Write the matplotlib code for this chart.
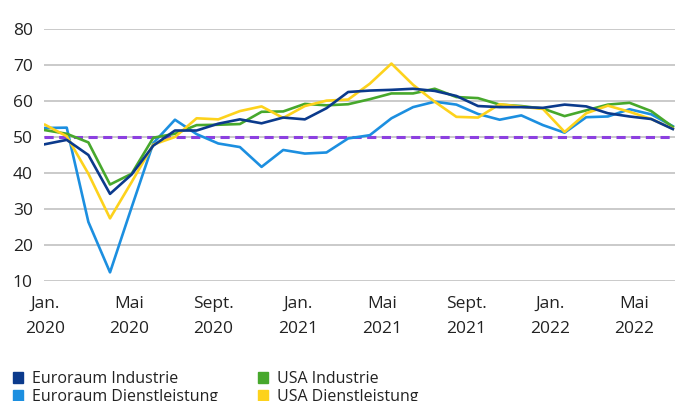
import numpy as np
import matplotlib as mpl
mpl.use('Agg')
import matplotlib.pyplot as plt
from matplotlib.patches import Patch

# monthly PMI values, Jan 2020 - Jun 2022
euro_ind = [48.0, 49.2, 45.0, 34.2, 39.6, 47.6, 51.8, 51.8, 53.7, 54.9, 53.8, 55.4,
            54.9, 58.0, 62.5, 62.9, 63.1, 63.4, 62.8, 61.4, 58.6, 58.3, 58.3, 58.1,
            59.0, 58.5, 56.6, 55.7, 55.0, 52.2]
euro_serv = [52.5, 52.6, 26.4, 12.4, 30.5, 48.3, 54.8, 50.8, 48.2, 47.2, 41.7, 46.4,
             45.4, 45.7, 49.6, 50.5, 55.2, 58.3, 59.8, 59.0, 56.4, 54.8, 56.0, 53.3,
             51.2, 55.5, 55.7, 57.7, 56.3, 53.0]
us_ind = [51.9, 50.9, 48.5, 36.8, 39.8, 49.8, 50.9, 53.3, 53.4, 53.6, 57.0, 57.1,
          59.2, 58.8, 59.1, 60.5, 62.1, 62.1, 63.4, 61.1, 60.8, 59.0, 58.6, 57.9,
          55.8, 57.4, 59.0, 59.5, 57.2, 52.8]
us_serv = [53.4, 50.2, 39.8, 27.4, 37.5, 47.9, 50.0, 55.2, 54.9, 57.2, 58.5, 55.3,
           58.6, 60.1, 60.4, 64.8, 70.4, 64.5, 59.8, 55.6, 55.4, 59.1, 58.4, 57.8,
           51.4, 56.6, 58.7, 57.0, 55.0, 52.3]
month_labels = ['Jan.\n2020', 'Mai\n2020', 'Sept.\n2020', 'Jan.\n2021',
                'Mai\n2021', 'Sept.\n2021', 'Jan.\n2022', 'Mai\n2022']
euro_labels = ['Euroraum Industrie', 'Euroraum Dienstleistung']
usa_labels = ['USA Industrie', 'USA Dienstleistung']

c_navy = '#0b3a8c'
c_light = '#1c8fe0'
c_green = '#47a82c'
c_yellow = '#fdd21c'
c_purple = '#8c3fe0'
c_grid = '#c6c6c6'
c_text = '#222222'

plt.rcParams['font.family'] = ['Open Sans', 'DejaVu Sans']

fig = plt.figure(figsize=(6.82, 4.01), dpi=100)
ax = fig.add_axes([44/682, 1-281/401, (675-44)/682, (281-29)/401])

x = np.arange(len(euro_ind))
ax.axhline(50, color=c_purple, lw=2.2, ls=(0, (3.0, 1.8)), zorder=1)
ax.plot(x, euro_serv, color=c_light, lw=1.9, zorder=3)
ax.plot(x, us_ind, color=c_green, lw=1.9, zorder=3)
ax.plot(x, us_serv, color=c_yellow, lw=1.9, zorder=3)
ax.plot(x, euro_ind, color=c_navy, lw=1.9, zorder=4)

ax.set_ylim(10, 80)
ax.set_xlim(-0.05, 29.1)
ax.set_yticks(range(10, 81, 10))
ax.yaxis.grid(True, color=c_grid, lw=1.3)
ax.set_axisbelow(True)
for s in ax.spines.values():
    s.set_visible(False)

ax.set_xticks(np.arange(8) * 3.89)
ax.set_xticklabels(month_labels, linespacing=1.75)
ax.tick_params(length=0, colors=c_text, labelsize=12.5)
ax.tick_params(axis='y', pad=8)
ax.tick_params(axis='x', pad=11)

lg_kw = dict(loc='upper left', frameon=False, fontsize=11.5,
             handlelength=0.65, handleheight=0.65, handletextpad=0.55,
             labelspacing=0.15, borderpad=0, borderaxespad=0,
             labelcolor=c_text)
lg1 = fig.legend([Patch(color=c_navy), Patch(color=c_light)], euro_labels,
                 bbox_to_anchor=(13/682, 1-371/401), **lg_kw)
lg2 = fig.legend([Patch(color=c_green), Patch(color=c_yellow)], usa_labels,
                 bbox_to_anchor=(258/682, 1-371/401), **lg_kw)

fig.savefig('out.png', dpi=100)
